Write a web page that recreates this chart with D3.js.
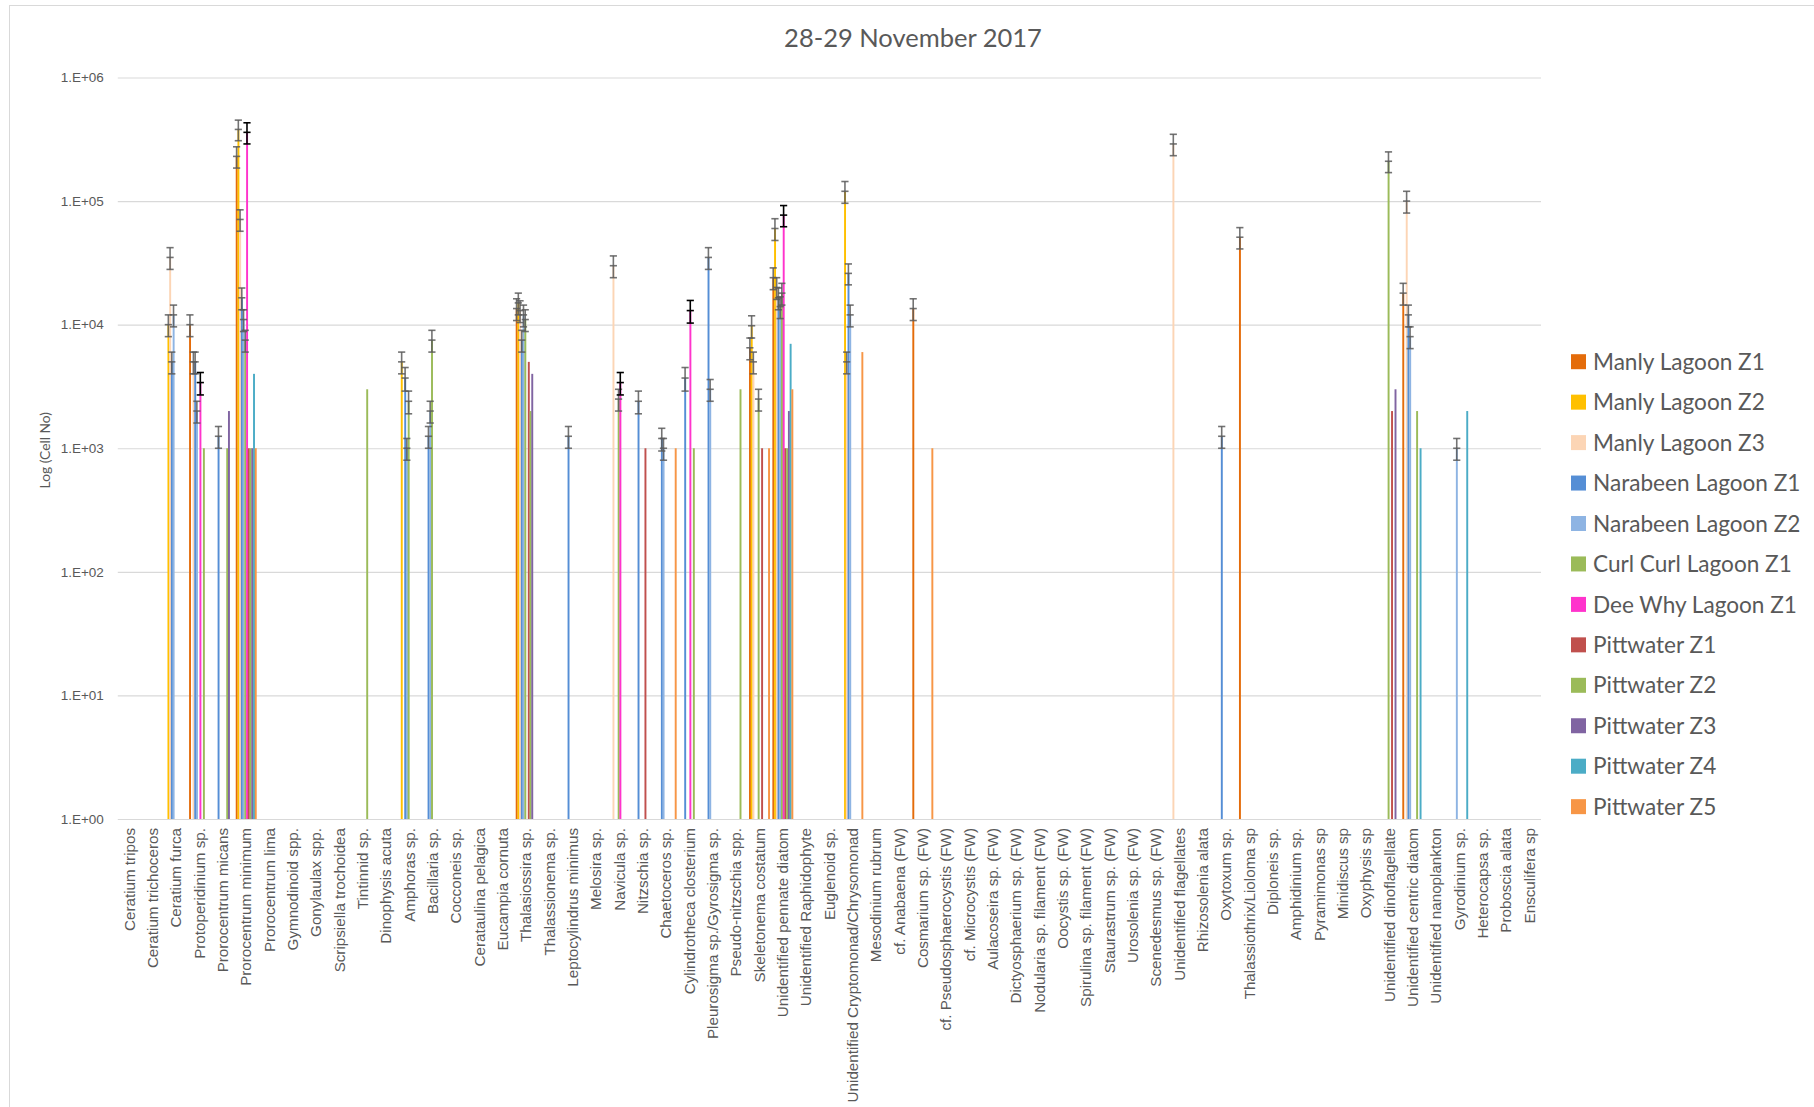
<!DOCTYPE html>
<html>
<head>
<meta charset="utf-8">
<script src="https://cdn.jsdelivr.net/npm/d3@7"></script>
<style>
  html, body { margin: 0; padding: 0; background: #fff; }
  svg { display: block; font-family: Lato, "Open Sans", "DejaVu Sans", sans-serif; }
</style>
</head>
<body>
<svg id="chart" width="1814" height="1107"></svg>
<script>
// ---- Data -------------------------------------------------------------
const categories = [
  "Ceratium tripos", "Ceratium trichoceros", "Ceratium furca", "Protoperidinium sp.",
  "Prorocentrum micans", "Prorocentrum minimum", "Prorocentrum lima", "Gymnodinoid spp.",
  "Gonylaulax spp.", "Scripsiella trochoidea", "Tintinnid sp.", "Dinophysis acuta",
  "Amphoras sp.", "Bacillaria sp.", "Cocconeis sp.", "Cerataulina pelagica",
  "Eucampia cornuta", "Thalasiossira sp.", "Thalassionema sp.", "Leptocylindrus minimus",
  "Melosira sp.", "Navicula sp.", "Nitzschia sp.", "Chaetoceros sp.",
  "Cylindrotheca closterium", "Pleurosigma sp./Gyrosigma sp.", "Pseudo-nitzschia spp.",
  "Skeletonema costatum", "Unidentified pennate diatom", "Unidentified Raphidophyte",
  "Euglenoid sp.", "Unidentified Cryptomonad/Chrysomonad", "Mesodinium rubrum",
  "cf. Anabaena  (FW)", "Cosmarium sp. (FW)", "cf. Pseudosphaerocystis (FW)",
  "cf. Microcystis (FW)", "Aulacoseira sp. (FW)", "Dictyosphaerium sp. (FW)",
  "Nodularia sp. filament (FW)", "Oocystis sp. (FW)", "Spirulina sp. filament (FW)",
  "Staurastrum sp. (FW)", "Urosolenia sp. (FW)", "Scenedesmus sp. (FW)",
  "Unidentified flagellates", "Rhizosolenia alata", "Oxytoxum sp.",
  "Thalassiothrix/Lioloma sp", "Diploneis sp.", "Amphidinium sp.", "Pyramimonas sp",
  "Minidiscus sp", "Oxyphysis sp", "Unidentified dinoflagellate",
  "Unidentified centric diatom", "Unidentified nanoplankton", "Gyrodinium sp.",
  "Heterocapsa sp.", "Proboscia alata", "Ensculifera sp"
];

const seriesNames = [
  "Manly Lagoon Z1", "Manly Lagoon Z2", "Manly Lagoon Z3", "Narabeen Lagoon Z1",
  "Narabeen Lagoon Z2", "Curl Curl Lagoon Z1", "Dee Why Lagoon Z1", "Pittwater Z1",
  "Pittwater Z2", "Pittwater Z3", "Pittwater Z4", "Pittwater Z5"
];

const seriesColors = [
  "#E46C0A", "#FFC000", "#FCD5B5", "#558ED5", "#8EB4E3", "#9BBB59",
  "#FF33CC", "#C0504D", "#9BBB59", "#8064A2", "#4BACC6", "#F79646"
];

const yTickValues = [1, 10, 100, 1000, 10000, 100000, 1000000];
const yTickLabels = ["1.E+00", "1.E+01", "1.E+02", "1.E+03", "1.E+04", "1.E+05", "1.E+06"];

// [taxon, cells, error (0 = no error bar)]
const manlyZ1 = [
  ["Protoperidinium sp.", 10000, 2000],
  ["Prorocentrum minimum", 230000, 45000],
  ["Thalasiossira sp.", 13500, 2700],
  ["Skeletonema costatum", 6500, 1300],
  ["Unidentified pennate diatom", 24000, 4800],
  ["Cosmarium sp. (FW)", 13500, 2700],
  ["Thalassiothrix/Lioloma sp", 51000, 10000],
  ["Unidentified centric diatom", 18000, 3600]
];
const manlyZ2 = [
  ["Ceratium furca", 10000, 2000],
  ["Prorocentrum minimum", 380000, 72000],
  ["Amphoras sp.", 5000, 1000],
  ["Thalasiossira sp.", 15000, 3000],
  ["Skeletonema costatum", 9800, 2000],
  ["Unidentified pennate diatom", 60000, 12000],
  ["Unidentified Cryptomonad/Chrysomonad", 120000, 24000]
];
const manlyZ3 = [
  ["Ceratium furca", 35000, 7000],
  ["Protoperidinium sp.", 5000, 1000],
  ["Prorocentrum minimum", 71000, 14000],
  ["Thalasiossira sp.", 13000, 2600],
  ["Navicula sp.", 30000, 6000],
  ["Skeletonema costatum", 5000, 1000],
  ["Unidentified pennate diatom", 20000, 4000],
  ["Unidentified Cryptomonad/Chrysomonad", 5000, 1000],
  ["Unidentified flagellates", 290000, 57000],
  ["Unidentified centric diatom", 100000, 20000]
];
const narabeenZ1 = [
  ["Ceratium furca", 5000, 1000],
  ["Protoperidinium sp.", 5000, 1000],
  ["Prorocentrum micans", 1250, 250],
  ["Prorocentrum minimum", 16500, 3300],
  ["Amphoras sp.", 3700, 800],
  ["Bacillaria sp.", 1250, 250],
  ["Thalasiossira sp.", 7500, 1500],
  ["Leptocylindrus minimus", 1250, 250],
  ["Nitzschia sp.", 2400, 500],
  ["Chaetoceros sp.", 1200, 250],
  ["Cylindrotheca closterium", 3700, 800],
  ["Pleurosigma sp./Gyrosigma sp.", 35000, 7000],
  ["Unidentified pennate diatom", 16500, 3300],
  ["Unidentified Cryptomonad/Chrysomonad", 26000, 5000],
  ["Oxytoxum sp.", 1250, 250],
  ["Unidentified centric diatom", 12000, 2400]
];
const narabeenZ2 = [
  ["Ceratium furca", 12000, 2400],
  ["Protoperidinium sp.", 2000, 400],
  ["Prorocentrum minimum", 11000, 2200],
  ["Amphoras sp.", 1000, 200],
  ["Bacillaria sp.", 2000, 400],
  ["Thalasiossira sp.", 12000, 2400],
  ["Chaetoceros sp.", 1000, 200],
  ["Pleurosigma sp./Gyrosigma sp.", 3000, 600],
  ["Unidentified pennate diatom", 14000, 2800],
  ["Unidentified Cryptomonad/Chrysomonad", 12000, 2400],
  ["Unidentified centric diatom", 8000, 1600],
  ["Gyrodinium sp.", 1000, 200]
];
const curlCurlZ1 = [
  ["Prorocentrum minimum", 7500, 1500],
  ["Amphoras sp.", 2400, 500],
  ["Bacillaria sp.", 7500, 1500],
  ["Thalasiossira sp.", 11000, 2200],
  ["Navicula sp.", 2500, 500],
  ["Skeletonema costatum", 2500, 500],
  ["Unidentified pennate diatom", 18000, 3600],
  ["Unidentified dinoflagellate", 210000, 40000]
];
const deeWhyZ1 = [
  ["Protoperidinium sp.", 3400, 700],
  ["Prorocentrum minimum", 360000, 70000],
  ["Navicula sp.", 3400, 700],
  ["Cylindrotheca closterium", 13000, 2700],
  ["Unidentified pennate diatom", 77000, 15000]
];
const pittwaterZ1 = [
  ["Prorocentrum minimum", 1000, 0],
  ["Thalasiossira sp.", 5000, 0],
  ["Nitzschia sp.", 1000, 0],
  ["Skeletonema costatum", 1000, 0],
  ["Unidentified pennate diatom", 1000, 0],
  ["Unidentified dinoflagellate", 2000, 0]
];
const pittwaterZ2 = [
  ["Protoperidinium sp.", 1000, 0],
  ["Prorocentrum micans", 1000, 0],
  ["Prorocentrum minimum", 1000, 0],
  ["Tintinnid sp.", 3000, 0],
  ["Thalasiossira sp.", 2000, 0],
  ["Cylindrotheca closterium", 1000, 0],
  ["Pseudo-nitzschia spp.", 3000, 0],
  ["Unidentified pennate diatom", 1000, 0],
  ["Unidentified centric diatom", 2000, 0]
];
const pittwaterZ3 = [
  ["Prorocentrum micans", 2000, 0],
  ["Prorocentrum minimum", 1000, 0],
  ["Thalasiossira sp.", 4000, 0],
  ["Unidentified pennate diatom", 2000, 0],
  ["Unidentified dinoflagellate", 3000, 0]
];
const pittwaterZ4 = [
  ["Prorocentrum minimum", 4000, 0],
  ["Unidentified pennate diatom", 7000, 0],
  ["Unidentified centric diatom", 1000, 0],
  ["Gyrodinium sp.", 2000, 0]
];
const pittwaterZ5 = [
  ["Prorocentrum minimum", 1000, 0],
  ["Chaetoceros sp.", 1000, 0],
  ["Skeletonema costatum", 1000, 0],
  ["Unidentified pennate diatom", 3000, 0],
  ["Unidentified Cryptomonad/Chrysomonad", 6000, 0],
  ["Cosmarium sp. (FW)", 1000, 0]
];

const seriesData = [manlyZ1, manlyZ2, manlyZ3, narabeenZ1, narabeenZ2, curlCurlZ1,
                    deeWhyZ1, pittwaterZ1, pittwaterZ2, pittwaterZ3, pittwaterZ4, pittwaterZ5];

// ---- Layout -----------------------------------------------------------
const W = 1814, H = 1107;
const plot = { left: 117.8, right: 1541, top: 77.5, bottom: 819 };
const textColor = "#595959";

const svg = d3.select("#chart");
svg.append("rect").attr("width", W).attr("height", H).attr("fill", "#fff");
svg.append("rect")
  .attr("x", 9.5).attr("y", 5.5).attr("width", W + 20).attr("height", H + 20)
  .attr("fill", "none").attr("stroke", "#d9d9d9").attr("stroke-width", 1);

const x0 = d3.scaleBand().domain(categories).range([plot.left, plot.right]).padding(0);
const x1 = d3.scaleBand().domain(seriesNames).range([0, x0.bandwidth()])
  .paddingInner(0).paddingOuter(0.74);
const y = d3.scaleLog().domain([1, 1e6]).range([plot.bottom, plot.top]);

// Horizontal gridlines
const grid = svg.append("g")
  .attr("transform", `translate(${plot.left},0)`)
  .call(d3.axisLeft(y).tickValues(yTickValues).tickSize(-(plot.right - plot.left)).tickFormat(""));
grid.select(".domain").remove();
grid.selectAll("line").attr("stroke", "#d9d9d9").attr("stroke-width", 1.2);

// Y axis labels
const yAxis = svg.append("g")
  .attr("transform", `translate(${plot.left},0)`)
  .call(d3.axisLeft(y).tickValues(yTickValues).tickSize(0).tickPadding(14)
    .tickFormat((d, i) => yTickLabels[i]));
yAxis.select(".domain").remove();
yAxis.selectAll("text").attr("fill", textColor).style("font-size", "13.5px");

// X axis labels (rotated)
const xAxis = svg.append("g")
  .attr("transform", `translate(0,${plot.bottom})`)
  .call(d3.axisBottom(x0).tickSize(0));
xAxis.select(".domain").remove();
xAxis.selectAll("text")
  .attr("transform", "rotate(-90)")
  .attr("x", -9).attr("y", 0).attr("dy", "0.35em")
  .style("text-anchor", "end")
  .style("font-size", "15.2px")
  .attr("fill", textColor);

// Bars
const barsG = svg.append("g");
seriesData.forEach((rows, s) => {
  const name = seriesNames[s];
  barsG.selectAll(null).data(rows).enter().append("rect")
    .attr("x", d => x0(d[0]) + x1(name))
    .attr("width", x1.bandwidth() + 0.2)
    .attr("y", d => y(d[1]))
    .attr("height", d => plot.bottom - y(d[1]))
    .attr("fill", seriesColors[s]);
});

// Error bars
const errG = svg.append("g");
const capHalf = 3.6;
seriesData.forEach((rows, s) => {
  const name = seriesNames[s];
  const stroke = name === "Dee Why Lagoon Z1" ? "#000" : "#5a5a5a";
  rows.filter(d => d[2] > 0).forEach(d => {
    const cx = x0(d[0]) + x1(name) + x1.bandwidth() / 2;
    const yHi = y(d[1] + d[2]), yLo = y(d[1] - d[2]), yMid = y(d[1]);
    const g = errG.append("g").attr("stroke", stroke).attr("stroke-width", 1.6)
      .attr("stroke-opacity", name === "Dee Why Lagoon Z1" ? 1 : 0.85);
    g.append("line").attr("x1", cx).attr("x2", cx).attr("y1", yHi).attr("y2", yLo);
    [yHi, yMid, yLo].forEach(yy => {
      g.append("line").attr("x1", cx - capHalf).attr("x2", cx + capHalf)
        .attr("y1", yy).attr("y2", yy);
    });
  });
});

// Title
svg.append("text")
  .attr("x", 913).attr("y", 47)
  .attr("text-anchor", "middle")
  .attr("fill", textColor)
  .style("font-size", "25.5px")
  .text("28-29 November 2017");

// Y axis title
svg.append("text")
  .attr("transform", `translate(50,${(plot.top + plot.bottom) / 2 + 2}) rotate(-90)`)
  .attr("text-anchor", "middle")
  .attr("fill", textColor)
  .style("font-size", "13.8px")
  .text("Log (Cell No)");

// Legend
const legend = svg.append("g");
seriesNames.forEach((name, i) => {
  const cy = 361.7 + i * 40.45;
  legend.append("rect")
    .attr("x", 1571).attr("y", cy - 7.5).attr("width", 15).attr("height", 15)
    .attr("fill", seriesColors[i]);
  legend.append("text")
    .attr("x", 1593).attr("y", cy).attr("dy", "0.36em")
    .attr("fill", textColor)
    .style("font-size", "22.6px")
    .text(name);
});
</script>
</body>
</html>
